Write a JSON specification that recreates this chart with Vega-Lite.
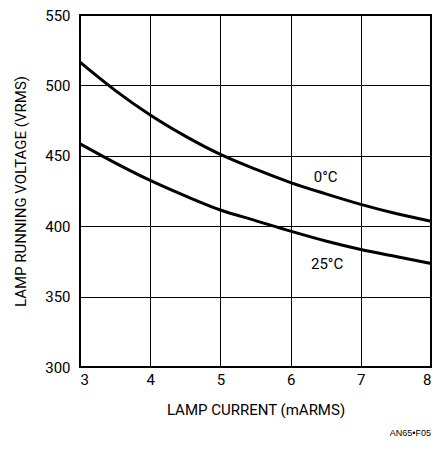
{
  "$schema": "https://vega.github.io/schema/vega-lite/v6.json",
  "width": 351,
  "height": 352,
  "autosize": {"type": "none"},
  "padding": {"left": 80, "top": 15, "right": 4, "bottom": 85},
  "config": {
    "font": "Roboto",
    "view": {"stroke": "#000", "strokeWidth": 2},
    "axis": {
      "grid": true, "gridColor": "#000", "gridWidth": 1, "gridOpacity": 1,
      "domain": false, "ticks": false,
      "labelFont": "Roboto", "labelFontSize": 15, "labelColor": "#000",
      "titleFont": "Roboto", "titleFontSize": 15, "titleColor": "#000", "titleFontWeight": "normal"
    }
  },
  "title": {"text": "AN65•F05", "orient": "bottom", "anchor": "end", "frame": "group", "fontSize": 9, "fontWeight": "normal", "font": "Liberation Sans", "color": "#000", "offset": 12},
  "layer": [
    {
      "data": {"values": [
        {"series": "0°C", "x": 3, "y": 516.5},
        {"series": "0°C", "x": 3.5, "y": 496.5},
        {"series": "0°C", "x": 4, "y": 479},
        {"series": "0°C", "x": 4.5, "y": 464},
        {"series": "0°C", "x": 5, "y": 451},
        {"series": "0°C", "x": 5.5, "y": 440.5},
        {"series": "0°C", "x": 6, "y": 431},
        {"series": "0°C", "x": 6.5, "y": 423},
        {"series": "0°C", "x": 7, "y": 415.5},
        {"series": "0°C", "x": 7.5, "y": 409},
        {"series": "0°C", "x": 8, "y": 403.5},
        {"series": "25°C", "x": 3, "y": 458.5},
        {"series": "25°C", "x": 3.5, "y": 445},
        {"series": "25°C", "x": 4, "y": 432.5},
        {"series": "25°C", "x": 4.5, "y": 421.5},
        {"series": "25°C", "x": 5, "y": 411.5},
        {"series": "25°C", "x": 5.5, "y": 404},
        {"series": "25°C", "x": 6, "y": 396.5},
        {"series": "25°C", "x": 6.5, "y": 389.5},
        {"series": "25°C", "x": 7, "y": 383.5},
        {"series": "25°C", "x": 7.5, "y": 378.5},
        {"series": "25°C", "x": 8, "y": 373.5}
      ]},
      "mark": {"type": "line", "interpolate": "monotone", "strokeWidth": 3, "color": "#000"},
      "encoding": {
        "x": {"field": "x", "type": "quantitative", "scale": {"domain": [3, 8], "nice": false},
              "axis": {"values": [3, 4, 5, 6, 7, 8], "format": "d", "title": "LAMP CURRENT (mARMS)", "labelPadding": 5, "titlePadding": 15}},
        "y": {"field": "y", "type": "quantitative", "scale": {"domain": [300, 550], "nice": false, "zero": false},
              "axis": {"values": [300, 350, 400, 450, 500, 550], "format": "d", "title": "LAMP RUNNING VOLTAGE (VRMS)", "labelPadding": 10, "titlePadding": 16}},
        "detail": {"field": "series"}
      }
    },
    {
      "data": {"values": [
        {"label": "0°C", "x": 6.5, "y": 435},
        {"label": "25°C", "x": 6.52, "y": 373.5}
      ]},
      "mark": {"type": "text", "fontSize": 15, "color": "#000", "align": "center", "baseline": "middle"},
      "encoding": {
        "x": {"field": "x", "type": "quantitative"},
        "y": {"field": "y", "type": "quantitative"},
        "text": {"field": "label"}
      }
    }
  ]
}
